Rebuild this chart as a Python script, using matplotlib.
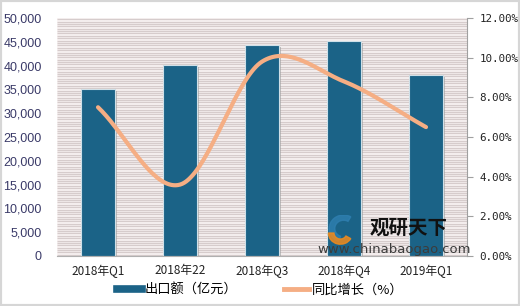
import numpy as np
import matplotlib.pyplot as plt
import matplotlib.patheffects as pe
from matplotlib.lines import Line2D
from matplotlib.patches import Rectangle, Wedge

plt.rcParams['font.family'] = ['Noto Sans CJK SC', 'DejaVu Sans']

quarters = ['2018年Q1', '2018年22', '2018年Q3', '2018年Q4', '2019年Q1']
exports = [35000, 40100, 44400, 45100, 38000]      # 出口额（亿元）
growth = [7.5, 3.6, 9.8, 8.8, 6.5]                 # 同比增长（%）

left_ticks = np.arange(0, 50001, 5000)
right_ticks = np.arange(0, 12.01, 2)

bar_color = '#1b6387'
line_color = '#f5ae84'


def smooth(xs, ys, n=40):
    # catmull-rom style smoothing, like the office "smoothed line"
    xs = np.asarray(xs, float)
    ys = np.asarray(ys, float)
    px = np.concatenate([[2 * xs[0] - xs[1]], xs, [2 * xs[-1] - xs[-2]]])
    py = np.concatenate([[2 * ys[0] - ys[1]], ys, [2 * ys[-1] - ys[-2]]])
    out_x, out_y = [], []
    for i in range(1, len(px) - 2):
        t = np.linspace(0, 1, n)
        h00 = 2 * t**3 - 3 * t**2 + 1
        h10 = t**3 - 2 * t**2 + t
        h01 = -2 * t**3 + 3 * t**2
        h11 = t**3 - t**2
        mx0, mx1 = (px[i + 1] - px[i - 1]) / 2, (px[i + 2] - px[i]) / 2
        my0, my1 = (py[i + 1] - py[i - 1]) / 2, (py[i + 2] - py[i]) / 2
        out_x.append(h00 * px[i] + h10 * mx0 + h01 * px[i + 1] + h11 * mx1)
        out_y.append(h00 * py[i] + h10 * my0 + h01 * py[i + 1] + h11 * my1)
    return np.concatenate(out_x), np.concatenate(out_y)


fig = plt.figure(figsize=(5.2, 3.06), dpi=100)
fig.patches.append(Rectangle((0, 0), 1, 1, transform=fig.transFigure,
                             facecolor='white', edgecolor='#d6d6d6', lw=3, zorder=-10))

ax = fig.add_axes([57 / 520, 50 / 306, 410 / 520, 238 / 306])
ax.set_facecolor('#fbf6f6')
# striped background
ax.hlines(np.arange(250, 50000, 500), -0.5, 4.5, color='#d6cccc', lw=1.0, zorder=0)

x = np.arange(len(quarters))
bars = ax.bar(x, exports, width=0.42, color=bar_color, edgecolor='#cfe0e8', lw=0.8, zorder=2)
for b in bars:
    b.set_path_effects([pe.SimplePatchShadow(offset=(1.5, -1.5), shadow_rgbFace='#9a9a9a', alpha=0.6),
                        pe.Normal()])

ax.set_xlim(-0.5, 4.5)
ax.set_ylim(0, 50000)
ax.set_yticks(left_ticks)
ax.set_yticklabels([f'{v:,}' for v in left_ticks], family='Liberation Sans', fontsize=9, color='#3a3a68')
ax.set_xticks(x)
ax.set_xticklabels(quarters, fontsize=8.5, color='#222222')
ax.tick_params(axis='y', length=0, pad=11)
ax.tick_params(axis='x', length=0, pad=6)
for s in ['top', 'right', 'left']:
    ax.spines[s].set_visible(False)
ax.spines['bottom'].set_color('#b0b0b0')

ax2 = ax.twinx()
sx, sy = smooth(x, growth)
ax2.plot(sx, sy, color=line_color, lw=3, solid_capstyle='round', zorder=3)
ax2.set_ylim(0, 12)
ax2.set_yticks(right_ticks)
ax2.set_yticklabels([f'{v:.2f}%' for v in right_ticks], family='DejaVu Sans Mono',
                    fontsize=7.8, color='#222222')
ax2.tick_params(axis='y', length=4, color='#a0a0a0', pad=5)
for s in ['top', 'left', 'bottom']:
    ax2.spines[s].set_visible(False)
ax2.spines['right'].set_color('#a0a0a0')

# watermark
fig.text(370 / 520, 1 - 228 / 306, '观研天下', fontsize=14, fontweight='bold',
         color='#111111', va='center', ha='left', zorder=10)
fig.text(394 / 520, 1 - 249 / 306, 'www.chinabaogao.com', fontsize=9.5,
         color='#3c3c3c', va='center', ha='center', family='DejaVu Sans', zorder=10)
ax_logo = fig.add_axes([326 / 520, 1 - 245 / 306, 32 / 520, 30 / 306])
ax_logo.set_xlim(-1, 1)
ax_logo.set_ylim(-1, 1)
ax_logo.axis('off')
ax_logo.add_patch(Wedge((0.1, 0.1), 0.9, 60, 250, width=0.35, color='#2f7fb0', alpha=0.8))
ax_logo.add_patch(Wedge((-0.1, -0.2), 0.75, 180, 330, width=0.35, color='#f08a1c', alpha=0.85))

handles = [Line2D([], [], color=bar_color, lw=5.5),
           Line2D([], [], color=line_color, lw=3.5)]
fig.legend(handles, ['出口额（亿元）', '同比增长（%）'], loc='center',
           bbox_to_anchor=(0.5, 1 - 290 / 306), ncol=2, frameon=False,
           fontsize=9.5, handlelength=1.9, handletextpad=0.2, columnspacing=3.5)

fig.savefig('out.png', dpi=100)
